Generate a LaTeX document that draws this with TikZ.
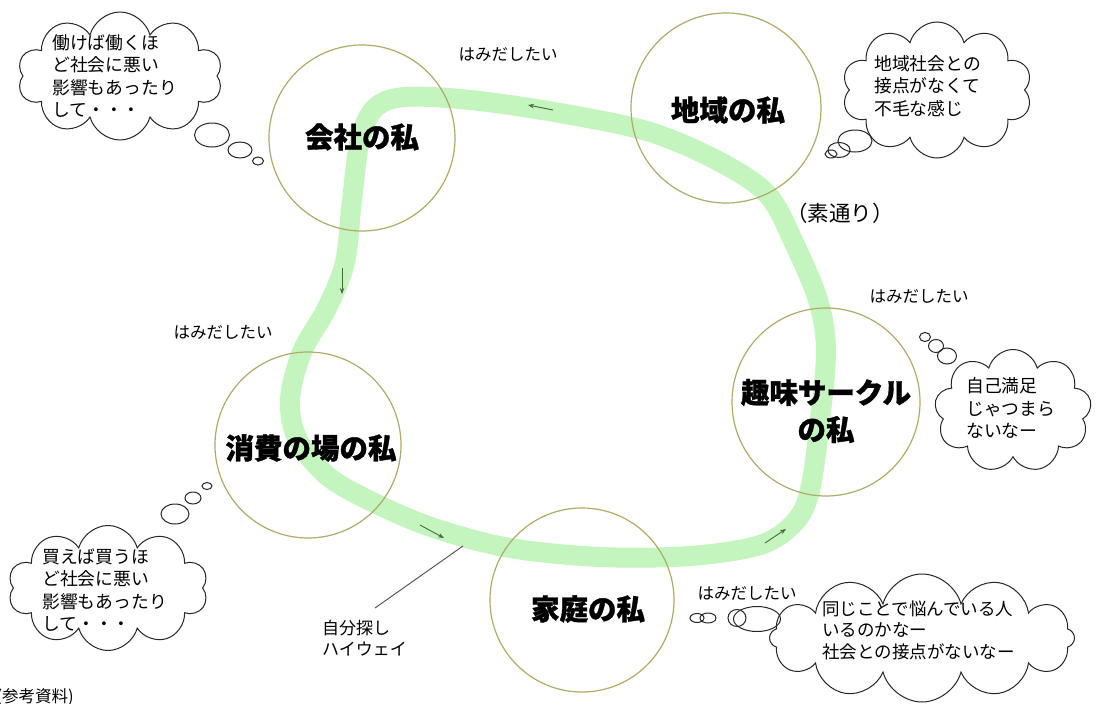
\documentclass[tikz,border=0pt]{standalone}
\usepackage{fontspec}
\newfontfamily\jp{Noto Sans CJK JP}[BoldFeatures={FakeBold=1.2}]
\usetikzlibrary{shapes.symbols,shapes.geometric,arrows.meta}
\definecolor{bandgreen}{RGB}{196,245,190}
\definecolor{ringcol}{RGB}{176,170,104}
\definecolor{arrcol}{RGB}{72,104,58}
\begin{document}
\begin{tikzpicture}[x=1pt,y=-1pt,
  ringnode/.style={circle,draw=ringcol,line width=1.2pt,inner sep=0pt},
  bigtxt/.style={font=\jp\bfseries\fontsize{28.5}{37}\selectfont,align=center,inner sep=0pt},
  smalltxt/.style={font=\jp\fontsize{16.5}{20}\selectfont,inner sep=0pt},
  cloudtxt/.style={font=\jp\fontsize{17.8}{22.3}\selectfont,align=left,inner sep=0pt,anchor=west},
  thought/.style={cloud,draw=black!85,fill=white,line width=1pt,cloud ignores aspect,inner sep=0pt},
  bub/.style={ellipse,draw=black!85,line width=1pt,inner sep=0pt},
  flowarrow/.style={draw=arrcol,line width=0.9pt,-{Stealth[length=6pt,width=4.5pt]}}]
\useasboundingbox (0,0) rectangle (1103,704);
\clip (0,0) rectangle (1103,704);
\fill[white] (0,0) rectangle (1103,704);

% green loop
\draw[bandgreen,line width=20pt,line join=round]
  plot[smooth cycle,tension=0.55] coordinates {
  (600,557) (690,556) (760,545) (795,522) (810,490) (820,420) (826,350)
  (818,300) (795,245) (768,195) (720,162) (650,132) (560,113) (470,100)
  (405,97) (375,108) (360,140) (352,200) (345,262) (327,308) (302,352)
  (290,400) (298,440) (330,478) (385,508) (440,530) (510,548)};

% circles
\node[ringnode,minimum size=186pt] (kaisha) at (362,138) {};
\node[ringnode,minimum size=190pt] (chiiki) at (726,108) {};
\node[ringnode,minimum size=188pt] (shumi) at (826,402) {};
\node[ringnode,minimum size=184pt] (katei) at (582,600) {};
\node[ringnode,minimum size=186pt] (shohi) at (308,445) {};

\node[bigtxt] (tkaisha) at (362,137) {会社の私};
\node[bigtxt] (tchiiki) at (728,110) {地域の私};
\node[bigtxt] (tshumi) at (826,411) {趣味サークル\\の私};
\node[bigtxt] (tkatei) at (588,609) {家庭の私};
\node[bigtxt] (tshohi) at (311,448) {消費の場の私};

% flow arrows
\coordinate (a1s) at (553,110); \coordinate (a1e) at (528,105);
\coordinate (a2s) at (342,268); \coordinate (a2e) at (342,294);
\coordinate (a3s) at (420,525); \coordinate (a3e) at (444,538);
\coordinate (a4s) at (765,543); \coordinate (a4e) at (786,529);
\draw[flowarrow] (a1s) -- (a1e);
\draw[flowarrow] (a2s) -- (a2e);
\draw[flowarrow] (a3s) -- (a3e);
\draw[flowarrow] (a4s) -- (a4e);

% labels
\node[smalltxt] (h1) at (508,54) {はみだしたい};
\node[smalltxt] (h2) at (223,332) {はみだしたい};
\node[smalltxt] (h3) at (919,296) {はみだしたい};
\node[smalltxt] (h4) at (747,593) {はみだしたい};
\node[font=\jp\fontsize{21.5}{24}\selectfont,inner sep=0pt] (sudori) at (840,213) {（素通り）};

% highway pointer
\node[smalltxt,align=left,anchor=west,font=\jp\fontsize{17}{20.5}\selectfont] (hwy) at (322,638) {自分探し\\ハイウェイ};
\coordinate (hwyp) at (463,546);
\coordinate (hwyq) at (375,608);
\draw[black!70,line width=0.9pt] (hwyp) -- (hwyq);

% cloud 1 (top-left)
\node[thought,cloud puffs=10,minimum width=205pt,minimum height=128pt] (c1) at (120,76) {};
\node[cloudtxt] (c1t) at (52,76) {働けば働くほ\\ど社会に悪い\\影響もあったり\\して・・・};
\node[bub,minimum width=35pt,minimum height=24pt] (c1b1) at (212,135) {};
\node[bub,minimum width=24pt,minimum height=16pt] (c1b2) at (240,150) {};
\node[bub,minimum width=11pt,minimum height=8pt] (c1b3) at (258,161) {};

% cloud 2 (top-right)
\node[thought,cloud puffs=10,minimum width=190pt,minimum height=136pt] (c2) at (937,90) {};
\node[cloudtxt] (c2t) at (874,86) {地域社会との\\接点がなくて\\不毛な感じ};
\node[bub,minimum width=34pt,minimum height=22pt] (c2b1) at (855,141) {};
\node[bub,minimum width=22pt,minimum height=15pt] (c2b2) at (839,150) {};
\node[bub,minimum width=12pt,minimum height=8pt] (c2b3) at (831,154) {};

% cloud 3 (right)
\node[thought,cloud puffs=9,minimum width=157pt,minimum height=123pt] (c3) at (1013,411) {};
\node[cloudtxt] (c3t) at (966,408) {自己満足\\じゃつまら\\ないなー};
\node[bub,minimum width=11pt,minimum height=9pt] (c3b1) at (925,337) {};
\node[bub,minimum width=15pt,minimum height=13pt] (c3b2) at (936,346) {};
\node[bub,minimum width=19pt,minimum height=16pt] (c3b3) at (947,356) {};

% cloud 4 (bottom-left)
\node[thought,cloud puffs=10,minimum width=200pt,minimum height=125pt] (c4) at (108,588) {};
\node[cloudtxt] (c4t) at (42,590) {買えば買うほ\\ど社会に悪い\\影響もあったり\\して・・・};
\node[bub,minimum width=28pt,minimum height=20pt] (c4b1) at (175,514) {};
\node[bub,minimum width=16pt,minimum height=12pt] (c4b2) at (193,498) {};
\node[bub,minimum width=10pt,minimum height=7pt] (c4b3) at (207,486) {};

% cloud 5 (bottom-right)
\node[thought,cloud puffs=12,minimum width=305pt,minimum height=128pt] (c5) at (922,638) {};
\node[cloudtxt,font=\jp\fontsize{17.5}{21.5}\selectfont] (c5t) at (822,630) {同じことで悩んでいる人\\いるのかなー\\社会との接点がないなー};
\node[bub,minimum width=14pt,minimum height=9pt] (c5b1) at (697,618) {};
\node[bub,minimum width=16pt,minimum height=10pt] (c5b2) at (708,618) {};
\node[bub,minimum width=18pt,minimum height=17pt] (c5b3) at (737,618) {};
\node[bub,minimum width=47pt,minimum height=25pt] (c5b4) at (757,619) {};

% source note
\node[smalltxt,anchor=east,font=\jp\fontsize{16.5}{18}\selectfont] (src) at (74,697) {(参考資料)};
\end{tikzpicture}
\end{document}
